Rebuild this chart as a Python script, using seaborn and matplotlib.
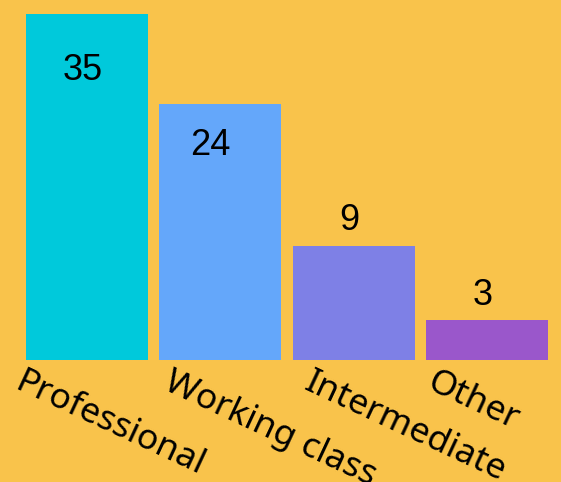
import matplotlib
matplotlib.use("Agg")
import matplotlib.pyplot as plt
import matplotlib.transforms as mtransforms
import seaborn as sns
import pandas as pd

categories = ["Professional", "Working class", "Intermediate", "Other"]
bar_heights = [35, 25.9, 11.5, 4.05]
value_labels = ["35", "24", "9", "3"]
colors = ["#00C9DB", "#64A7FA", "#7E80E6", "#9A57CB"]

BG = "#F9C34B"
W, H, DPI = 5.61, 4.82, 100

df = pd.DataFrame({"cat": categories, "h": bar_heights})

fig = plt.figure(figsize=(W, H), dpi=DPI, facecolor=BG)
ax = fig.add_axes([0, 122 / 482, 1, 360 / 482])
ax.set_facecolor(BG)
sns.barplot(data=df, x="cat", y="h", hue="cat", palette=colors, legend=False,
            width=0.915, saturation=1, ax=ax)
ax.set_xlim(-87 / 133.3, (561 - 87) / 133.3)
ax.set_ylim(0, 360 / 346 * 35)
ax.set_axis_off()

# value labels: offsets (px) relative to bar top, (dx, dy)
offsets = [(-4, -56), (-10, -42), (-4, 26), (-4, 24)]
for i, (h, lab) in enumerate(zip(bar_heights, value_labels)):
    dx, dy = offsets[i]
    ax.annotate(lab, xy=(i, h), xytext=(dx * 72 / DPI, dy * 72 / DPI),
                textcoords="offset points", ha="center", va="center",
                fontsize=26, family="Liberation Sans", color="black")

# category labels, starting near each bar's left edge (px shifts)
label_dx = [-1, 14, 21, 11]
trans = mtransforms.blended_transform_factory(ax.transData, ax.transAxes)
for i, cat in enumerate(categories):
    ax.text(i - 0.915 / 2, -5 / 360, cat,
            transform=trans + mtransforms.ScaledTranslation(label_dx[i] / DPI, 0, fig.dpi_scale_trans),
            rotation=-25, rotation_mode="anchor", ha="left", va="top",
            fontsize=25.5, family="Noto Sans", color="black", clip_on=False)

fig.savefig("out.png", dpi=DPI, facecolor=BG)
